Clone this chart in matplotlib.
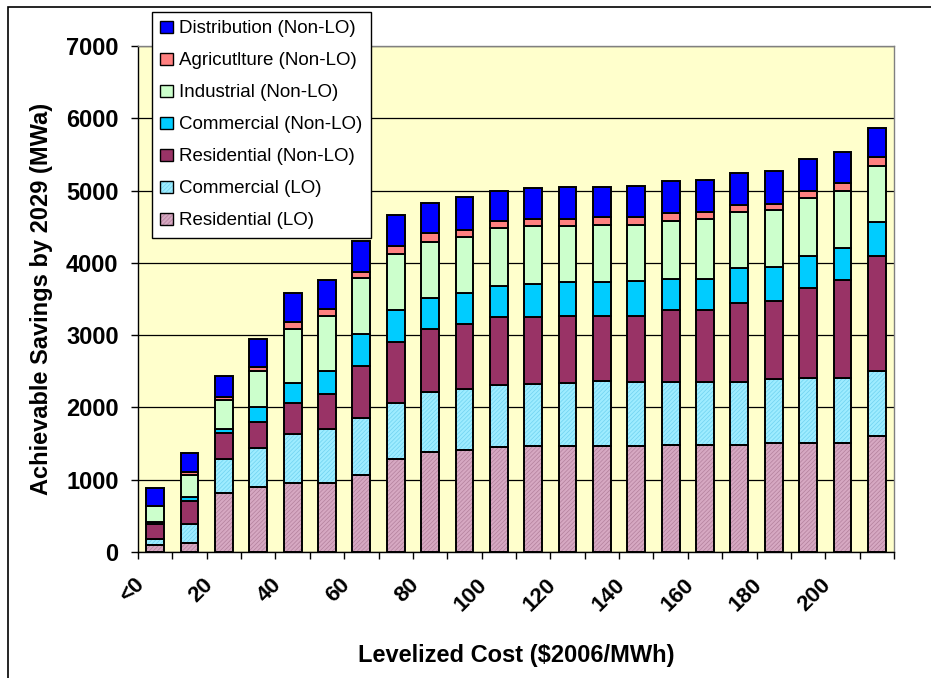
import numpy as np
import matplotlib
matplotlib.use("Agg")
import matplotlib.pyplot as plt
from matplotlib.patches import Patch, Rectangle
from matplotlib.legend_handler import HandlerTuple
from matplotlib.transforms import ScaledTranslation

plt.rcParams['font.family'] = ['Liberation Sans', 'DejaVu Sans']
plt.rcParams['hatch.linewidth'] = 0.5

# cost bins, $2006/MWh
categories = ['<0', '10', '20', '30', '40', '50', '60', '70', '80', '90', '100',
              '110', '120', '130', '140', '150', '160', '170', '180', '190', '200', '>200']
tick_labels = [c if i % 2 == 0 else '' for i, c in enumerate(categories)]

# achievable savings by sector, MWa
residential_lo = [100, 130, 810, 905, 950, 950, 1070, 1290, 1390, 1410, 1450,
                  1460, 1460, 1460, 1460, 1480, 1480, 1480, 1510, 1510, 1510, 1600]
commercial_lo = [75, 260, 480, 535, 680, 750, 780, 770, 820, 850, 860,
                 870, 880, 900, 890, 870, 870, 870, 880, 900, 900, 910]
residential_nonlo = [215, 320, 350, 355, 430, 490, 720, 850, 880, 900, 940,
                     920, 930, 910, 920, 1000, 1000, 1090, 1080, 1240, 1350, 1590]
commercial_nonlo = [25, 50, 60, 215, 280, 310, 440, 440, 420, 420, 430,
                    460, 470, 470, 480, 430, 430, 490, 470, 450, 440, 460]
industrial_nonlo = [220, 310, 400, 490, 750, 770, 780, 770, 780, 780, 800,
                    800, 770, 790, 780, 800, 830, 770, 790, 800, 800, 780]
agriculture_nonlo = [5, 40, 50, 60, 90, 90, 90, 120, 120, 90, 100,
                     100, 100, 100, 100, 110, 90, 100, 90, 90, 110, 120]
distribution_nonlo = [245, 260, 280, 380, 400, 400, 420, 420, 420, 460, 420,
                      420, 440, 420, 440, 440, 450, 440, 450, 440, 430, 410]

# (label, values, face colour, hatch colour, hatch) from bottom to top
series = [
    ('Residential (LO)', residential_lo, '#d6a8c2', '#b3809c', '////////'),
    ('Commercial (LO)', commercial_lo, '#9eecff', '#6fd2f0', '////////'),
    ('Residential (Non-LO)', residential_nonlo, '#993366', None, None),
    ('Commercial (Non-LO)', commercial_nonlo, '#00ccff', None, None),
    ('Industrial (Non-LO)', industrial_nonlo, '#ccffcc', None, None),
    ('Agricutlture (Non-LO)', agriculture_nonlo, '#ff8080', None, None),
    ('Distribution (Non-LO)', distribution_nonlo, '#0000ff', None, None),
]

fig = plt.figure(figsize=(9.31, 6.78), dpi=100)
ax = fig.add_axes([138 / 931, 126 / 678, 756 / 931, 506 / 678])
ax.set_facecolor('#ffffcc')

x = np.arange(len(categories))
width = 0.52
bottom = np.zeros(len(categories))
handles = []
for label, vals, face, hcol, hatch in series:
    vals = np.array(vals, dtype=float)
    if hatch:
        ax.bar(x, vals, width, bottom=bottom, color=face, edgecolor=hcol,
               linewidth=0, hatch=hatch, zorder=2)
        ax.bar(x, vals, width, bottom=bottom, facecolor='none',
               edgecolor='black', linewidth=1.4, zorder=3)
        h = (Patch(facecolor=face, edgecolor=hcol, linewidth=0, hatch=hatch),
             Patch(facecolor='none', edgecolor='black', linewidth=1.0))
    else:
        ax.bar(x, vals, width, bottom=bottom, color=face, edgecolor='black',
               linewidth=1.4, zorder=3)
        h = Patch(facecolor=face, edgecolor='black', linewidth=1.0)
    handles.append((label, h))
    bottom += vals

ax.set_xlim(-0.5, len(categories) - 0.5)
ax.set_ylim(0, 7000)
ax.set_yticks(np.arange(0, 7001, 1000))
ax.yaxis.grid(True, color='black', linewidth=0.9, zorder=1)
ax.set_axisbelow(True)

for s in ['top', 'right']:
    ax.spines[s].set_color('#808080')
    ax.spines[s].set_linewidth(1.0)
for s in ['left', 'bottom']:
    ax.spines[s].set_color('black')
    ax.spines[s].set_linewidth(1.0)

ax.set_xticks(x)
ax.set_xticklabels(tick_labels, rotation=45, ha='right', va='top',
                   fontsize=16, fontweight='bold')
ax.set_xticks(np.arange(-0.5, len(categories), 1.0), minor=True)
ax.tick_params(axis='x', which='major', length=0, pad=16)
ax.tick_params(axis='x', which='minor', length=5, width=1, direction='out')
for lab in ax.get_xticklabels():
    lab.set_transform(lab.get_transform() + ScaledTranslation(-0.07, 0, fig.dpi_scale_trans))

ax.tick_params(axis='y', length=5, width=1, direction='out', pad=9,
               labelsize=17)
for lab in ax.get_yticklabels():
    lab.set_fontweight('bold')

ax.set_ylabel('Achievable Savings by 2029 (MWa)', fontsize=17,
              fontweight='bold', va='center')
ax.yaxis.set_label_coords(-0.127, 0.5)
ax.set_xlabel('Levelized Cost ($2006/MWh)', fontsize=17, fontweight='bold',
              va='center')
ax.xaxis.set_label_coords(0.5, -0.204)

# legend lists the top segment first
labels = [l for l, _ in handles][::-1]
hs = [h for _, h in handles][::-1]
leg = fig.legend(hs, labels, loc='upper left',
                 bbox_to_anchor=(152 / 931, 1 - 12 / 678), borderaxespad=0,
                 handler_map={tuple: HandlerTuple(ndivide=1, pad=0)},
                 prop={'size': 13.5}, frameon=True, fancybox=False,
                 edgecolor='black', framealpha=1, handlelength=0.65,
                 handleheight=0.65, handletextpad=0.35, borderpad=0.45,
                 labelspacing=0.8)
leg.get_frame().set_linewidth(1.0)
leg.set_zorder(10)

# outer chart border, only the left and top edges fall inside the image
fig.patches.append(Rectangle((8 / 931, -0.1), 1.0, 1 - 7 / 678 + 0.1,
                             transform=fig.transFigure, fill=False,
                             edgecolor='black', linewidth=1.2))

fig.savefig('out.png', dpi=100, facecolor='white')
